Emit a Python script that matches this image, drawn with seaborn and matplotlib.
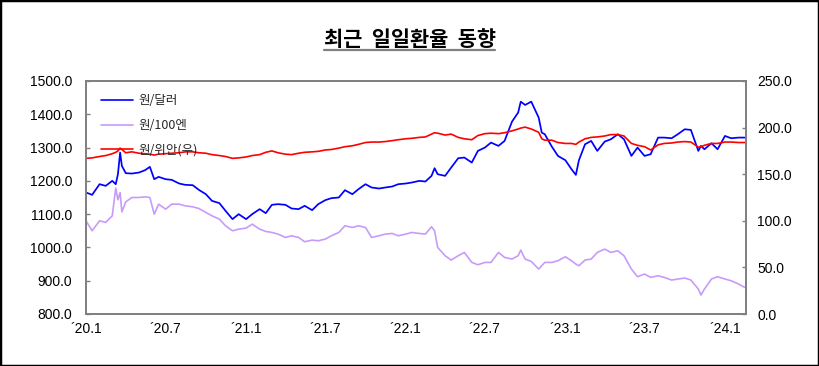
import matplotlib
matplotlib.use("Agg")
import matplotlib.pyplot as plt
import seaborn as sns
import pandas as pd
from matplotlib.lines import Line2D
from matplotlib.patches import Rectangle

# ---------------- data ----------------
dates = [
    "2020-01-01", "2020-01-15", "2020-02-01", "2020-02-15", "2020-03-01", "2020-03-09",
    "2020-03-14", "2020-03-19", "2020-03-23", "2020-04-01", "2020-04-15", "2020-05-01",
    "2020-05-15", "2020-05-26", "2020-06-05", "2020-06-15", "2020-07-01", "2020-07-15",
    "2020-08-01", "2020-08-15", "2020-09-01", "2020-09-15", "2020-10-01", "2020-10-15",
    "2020-11-01", "2020-11-15", "2020-12-01", "2020-12-15", "2021-01-01", "2021-01-15",
    "2021-02-01", "2021-02-15", "2021-03-01", "2021-03-15", "2021-04-01", "2021-04-15",
    "2021-05-01", "2021-05-15", "2021-06-01", "2021-06-15", "2021-07-01", "2021-07-15",
    "2021-08-01", "2021-08-15", "2021-09-01", "2021-09-15", "2021-10-01", "2021-10-15",
    "2021-11-01", "2021-11-15", "2021-12-01", "2021-12-15", "2022-01-01", "2022-01-15",
    "2022-02-01", "2022-02-15", "2022-03-01", "2022-03-08", "2022-03-15", "2022-04-01",
    "2022-04-15", "2022-05-01", "2022-05-15", "2022-06-01", "2022-06-15", "2022-07-01",
    "2022-07-15", "2022-08-01", "2022-08-15", "2022-09-01", "2022-09-15", "2022-09-21",
    "2022-10-01", "2022-10-15", "2022-11-01", "2022-11-08", "2022-11-15", "2022-12-01",
    "2022-12-15", "2023-01-01", "2023-01-15", "2023-01-25", "2023-02-01", "2023-02-15",
    "2023-03-01", "2023-03-15", "2023-04-01", "2023-04-15", "2023-05-01", "2023-05-15",
    "2023-06-01", "2023-06-15", "2023-07-01", "2023-07-15", "2023-08-01", "2023-08-15",
    "2023-09-01", "2023-09-15", "2023-10-01", "2023-10-15", "2023-11-01", "2023-11-07",
    "2023-11-15", "2023-12-01", "2023-12-15", "2024-01-01", "2024-01-15", "2024-02-01",
    "2024-02-15",
]

won_usd = [
    1165, 1158, 1190, 1185, 1200, 1190, 1220, 1285, 1245, 1223, 1222, 1225,
    1232, 1242, 1205, 1212, 1205, 1203, 1192, 1188, 1187, 1173, 1160, 1140,
    1133, 1110, 1085, 1100, 1085, 1100, 1115, 1103, 1128, 1130, 1128, 1117,
    1115, 1125, 1112, 1130, 1142, 1148, 1150, 1172, 1160, 1175, 1190, 1180,
    1177, 1180, 1183, 1190, 1192, 1195, 1200, 1198, 1215, 1238, 1220, 1215,
    1240, 1268, 1270, 1255, 1290, 1300, 1315, 1305, 1320, 1378, 1405, 1438,
    1428, 1438, 1390, 1345, 1340, 1303, 1275, 1262, 1235, 1218, 1262, 1310,
    1320, 1290, 1318, 1325, 1340, 1325, 1275, 1300, 1275, 1280, 1330, 1330,
    1328, 1340, 1355, 1353, 1290, 1305, 1295, 1313, 1295, 1335, 1328, 1330,
    1330,
]

won_100yen = [
    1080, 1050, 1080, 1075, 1095, 1178, 1143, 1165, 1107, 1137, 1150, 1150,
    1152, 1150, 1100, 1130, 1115, 1130, 1130, 1125, 1122, 1117, 1105, 1095,
    1085, 1065, 1050, 1055, 1058, 1070, 1055, 1048, 1045, 1040, 1030, 1035,
    1030, 1017, 1022, 1020, 1025, 1035, 1045, 1065, 1060, 1065, 1060, 1030,
    1035, 1040, 1042, 1035, 1040, 1045, 1042, 1040, 1062, 1050, 1000, 975,
    962, 975, 985, 955, 948, 955, 955, 985, 970, 965, 975, 992,
    965, 958, 935, 945, 955, 955, 960, 972, 960, 950, 945, 962,
    965, 985, 995, 985, 990, 975, 935, 912, 920, 910, 915, 910,
    902, 905, 908, 902, 875, 857, 875, 905, 912, 905, 900, 890,
    880,
]

won_yuan = [
    167.0, 167.5, 169.0, 170.0, 172.0, 173.5, 175.0, 178.0, 176.5, 173.0, 174.0, 172.5,
    172.0, 171.5, 170.5, 171.5, 172.0, 172.5, 173.0, 174.0, 174.0, 173.0, 172.5, 171.0,
    170.0, 169.0, 167.0, 167.5, 168.5, 170.0, 171.0, 173.5, 175.0, 173.0, 171.5, 171.0,
    172.5, 173.5, 174.0, 174.5, 176.0, 176.5, 178.0, 179.5, 180.5, 182.0, 184.0, 184.5,
    184.5, 185.0, 186.0, 187.0, 188.0, 188.5, 189.5, 190.0, 193.0, 194.5, 194.0, 192.0,
    193.0, 189.5, 188.0, 187.0, 191.5, 193.5, 194.0, 193.5, 194.5, 196.5, 198.5, 199.5,
    200.5, 198.5, 195.0, 188.0, 186.5, 186.5, 184.0, 183.0, 183.0, 182.0, 184.5, 188.0,
    189.5, 190.0, 191.0, 192.5, 192.5, 191.0, 183.0, 181.0, 179.5, 176.0, 181.5, 183.0,
    183.5, 184.5, 185.0, 184.5, 179.0, 179.5, 181.0, 183.0, 183.0, 184.5, 184.5, 184.0,
    184.0,
]

series_labels = ["원/달러", "원/100엔", "원/위안(우)"]
series_colors = ["#0000FF", "#C89BFA", "#FF0000"]

x_tick_dates = ["2020-01-01", "2020-07-01", "2021-01-01", "2021-07-01", "2022-01-01",
                "2022-07-01", "2023-01-01", "2023-07-01", "2024-01-01"]
x_tick_labels = ["´20.1", "´20.7", "´21.1", "´21.7", "´22.1",
                 "´22.7", "´23.1", "´23.7", "´24.1"]
left_ticks = [800, 900, 1000, 1100, 1200, 1300, 1400, 1500]
right_ticks = [0, 50, 100, 150, 200, 250]
title_text = "최근  일일환율  동향"

# ---------------- drawing ----------------
sns.set_style("white")
plt.rcParams["font.family"] = ["Noto Sans CJK KR", "DejaVu Sans"]

df = pd.DataFrame({
    "date": pd.to_datetime(dates),
    "usd": won_usd,
    "jpy": won_100yen,
    "cny": won_yuan,
})

W, H = 819, 366
fig = plt.figure(figsize=(W / 100, H / 100), dpi=100)
L, R, T, B = 86, 746, 81, 314
ax = fig.add_axes([L / W, 1 - B / H, (R - L) / W, (B - T) / H])
ax2 = ax.twinx()

sns.lineplot(data=df, x="date", y="usd", ax=ax, color=series_colors[0], lw=1.25, legend=False)
sns.lineplot(data=df, x="date", y="jpy", ax=ax, color=series_colors[1], lw=1.2, legend=False)
sns.lineplot(data=df, x="date", y="cny", ax=ax2, color=series_colors[2], lw=1.2, legend=False)

ax.set_xlim(pd.Timestamp("2020-01-01"), pd.Timestamp("2024-02-18"))
ax.set_ylim(800, 1500)
ax2.set_ylim(0, 250)

ax.set_xticks(pd.to_datetime(x_tick_dates))
ax.set_xticklabels(x_tick_labels, fontfamily="Liberation Sans", fontsize=10)
ax.set_yticks(left_ticks)
ax.set_yticklabels([f"{v:.1f}" for v in left_ticks], fontfamily="Liberation Sans", fontsize=10)
ax2.set_yticks(right_ticks)
ax2.set_yticklabels([f"{v:.1f}" for v in right_ticks], fontfamily="Liberation Sans", fontsize=10)

for a in (ax, ax2):
    a.set_xlabel("")
    a.set_ylabel("")
    a.grid(False)
    for s in a.spines.values():
        s.set_color("#808080")
        s.set_linewidth(1.3)
        s.set_visible(True)

ax.tick_params(axis="x", length=0, pad=6, colors="black")
ax.tick_params(axis="y", direction="in", length=3, width=1, color="#808080",
               labelcolor="black", pad=10, left=True)
ax2.tick_params(axis="y", direction="in", length=3, width=1, color="#808080",
                labelcolor="black", pad=8, right=True)

handles = [Line2D([0], [0], color=c, lw=1.2) for c in series_colors]
leg = ax2.legend(handles, series_labels, loc="upper left",
                 bbox_to_anchor=(0.022, 0.944), frameon=False, fontsize=9,
                 handlelength=2.6, handletextpad=0.45, labelspacing=0.95,
                 borderpad=0, borderaxespad=0)

# title with underline
t = fig.text(0.5, 1 - 46 / H, title_text, ha="center", va="baseline",
             fontsize=15, fontweight="bold", color="black")
fig.canvas.draw()
bb = t.get_window_extent(renderer=fig.canvas.get_renderer())
uy = 1 - 50 / H
fig.add_artist(Line2D([bb.x0 / W, bb.x1 / W], [uy, uy], transform=fig.transFigure,
                      color="#808080", lw=1.6))

# outer black frame
fig.add_artist(Rectangle((0, 0), 1, 1, transform=fig.transFigure, fill=False,
                         edgecolor="black", lw=2.5))

fig.savefig("out.png", dpi=100)
